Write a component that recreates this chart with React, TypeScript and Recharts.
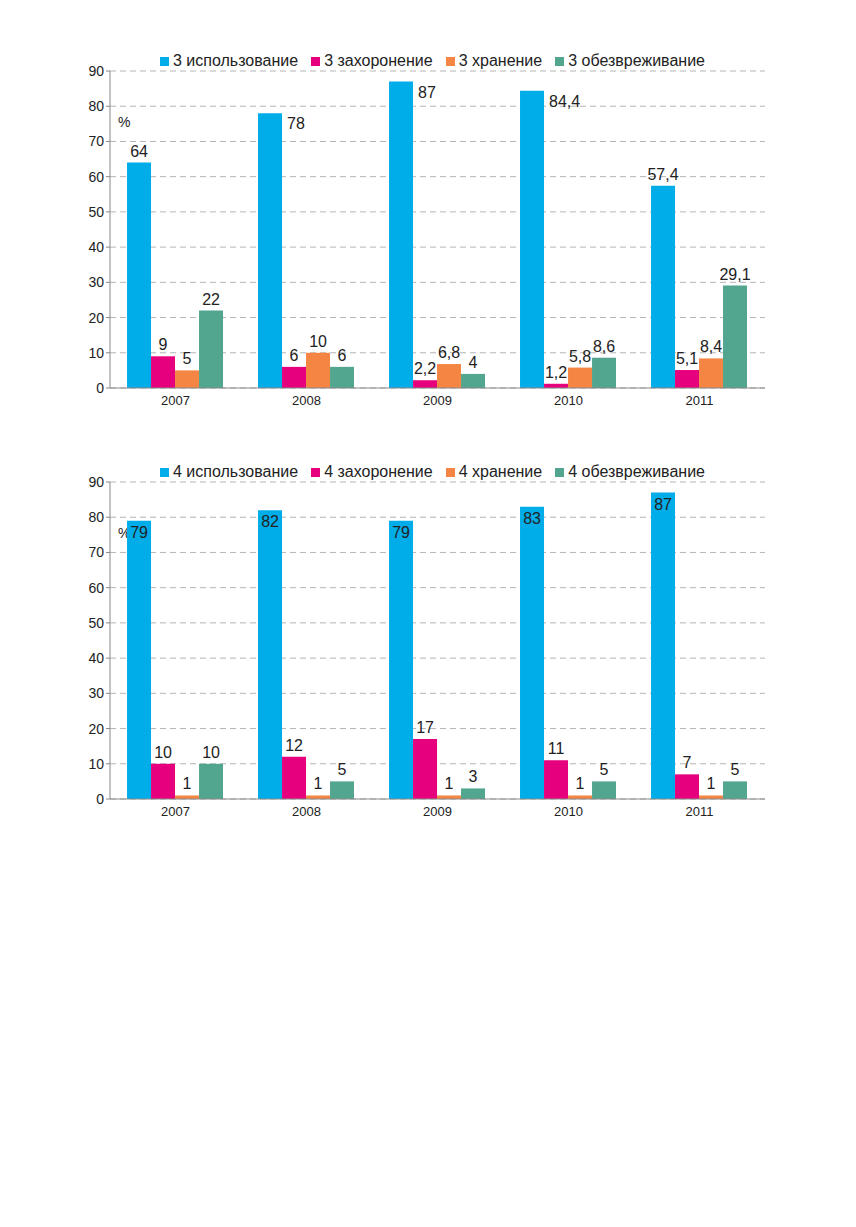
import React from "react";
import { Bar, BarChart, CartesianGrid, LabelList, XAxis, YAxis } from "recharts";

const years = ["2007", "2008", "2009", "2010", "2011"];
const use3 = [64, 78, 87, 84.4, 57.4];
const bury3 = [9, 6, 2.2, 1.2, 5.1];
const store3 = [5, 10, 6.8, 5.8, 8.4];
const neutral3 = [22, 6, 4, 8.6, 29.1];
const use4 = [79, 82, 79, 83, 87];
const bury4 = [10, 12, 17, 11, 7];
const store4 = [1, 1, 1, 1, 1];
const neutral4 = [10, 5, 3, 5, 5];
const yTicks = [0, 10, 20, 30, 40, 50, 60, 70, 80, 90];

const COLORS = ["#00ade9", "#e6007e", "#f58543", "#52a58f"];
const NAMES = ["использование", "захоронение", "хранение", "обезвреживание"];
const FONT = "'Liberation Sans', Arial, sans-serif";

const fmt = (v: number) => String(v).replace(".", ",");

function Legend({ n }: { n: string }) {
  return (
    <div style={{ position: "absolute", left: 152, top: 2, display: "flex", gap: 13, fontSize: 16, fontFamily: FONT, color: "#222" }}>
      {NAMES.map((name, i) => (
        <span key={name} style={{ display: "flex", alignItems: "center", gap: 4 }}>
          <span style={{ width: 9, height: 9, background: COLORS[i], display: "inline-block" }} />
          {n} {name}
        </span>
      ))}
    </div>
  );
}

const blueTop = (side: boolean[]) => (props: any) => {
  const { x, y, width, value, index } = props;
  if (side[index]) {
    return <text x={x + width + 5} y={y + 16} fontSize={16} fontFamily={FONT} fill="#222">{fmt(value)}</text>;
  }
  return <text x={x + width / 2} y={y - 6} fontSize={16} fontFamily={FONT} fill="#222" textAnchor="middle">{fmt(value)}</text>;
};

const blueInside = (props: any) => {
  const { x, y, width, value } = props;
  return <text x={x + width / 2} y={y + 17} fontSize={16} fontFamily={FONT} fill="#222" textAnchor="middle">{fmt(value)}</text>;
};

const above = (props: any) => {
  const { x, y, width, value } = props;
  return <text x={x + width / 2} y={y - 6} fontSize={16} fontFamily={FONT} fill="#222" textAnchor="middle">{fmt(value)}</text>;
};

function Chart({ n, series, top }: { n: string; series: number[][]; top: boolean }) {
  const data = years.map((y, i) => ({ year: y, a: series[0][i], b: series[1][i], c: series[2][i], d: series[3][i] }));
  return (
    <div style={{ position: "relative", width: 800, height: 368 }}>
      <Legend n={n} />
      <BarChart width={800} height={368} data={data} margin={{ top: 21, right: 43, left: 0, bottom: 0 }} barCategoryGap="13%" barGap={0}>
        <CartesianGrid vertical={false} stroke="#b5b5b5" strokeDasharray="6 4" />
        <XAxis dataKey="year" height={30} tick={{ fill: "#222", fontSize: 13, fontFamily: FONT }} stroke="#888" tickLine={false} />
        <YAxis width={102} domain={[0, 90]} ticks={yTicks} interval={0} tick={{ fill: "#222", fontSize: 14, fontFamily: FONT }} stroke="#888" tickSize={4} />
        <Bar dataKey="a" fill={COLORS[0]} isAnimationActive={false}>
          <LabelList dataKey="a" content={top ? blueTop([false, true, true, true, false]) : blueInside} />
        </Bar>
        <Bar dataKey="b" fill={COLORS[1]} isAnimationActive={false}>
          <LabelList dataKey="b" content={above} />
        </Bar>
        <Bar dataKey="c" fill={COLORS[2]} isAnimationActive={false}>
          <LabelList dataKey="c" content={above} />
        </Bar>
        <Bar dataKey="d" fill={COLORS[3]} isAnimationActive={false}>
          <LabelList dataKey="d" content={above} />
        </Bar>
        <text x={110} y={77} fontSize={14} fontFamily={FONT} fill="#222">%</text>
      </BarChart>
    </div>
  );
}

export default function App() {
  return (
    <div style={{ width: 840, height: 1200, paddingTop: 42, background: "#fff" }}>
      <Chart n="3" series={[use3, bury3, store3, neutral3]} top={true} />
      <div style={{ height: 43 }} />
      <Chart n="4" series={[use4, bury4, store4, neutral4]} top={false} />
    </div>
  );
}
